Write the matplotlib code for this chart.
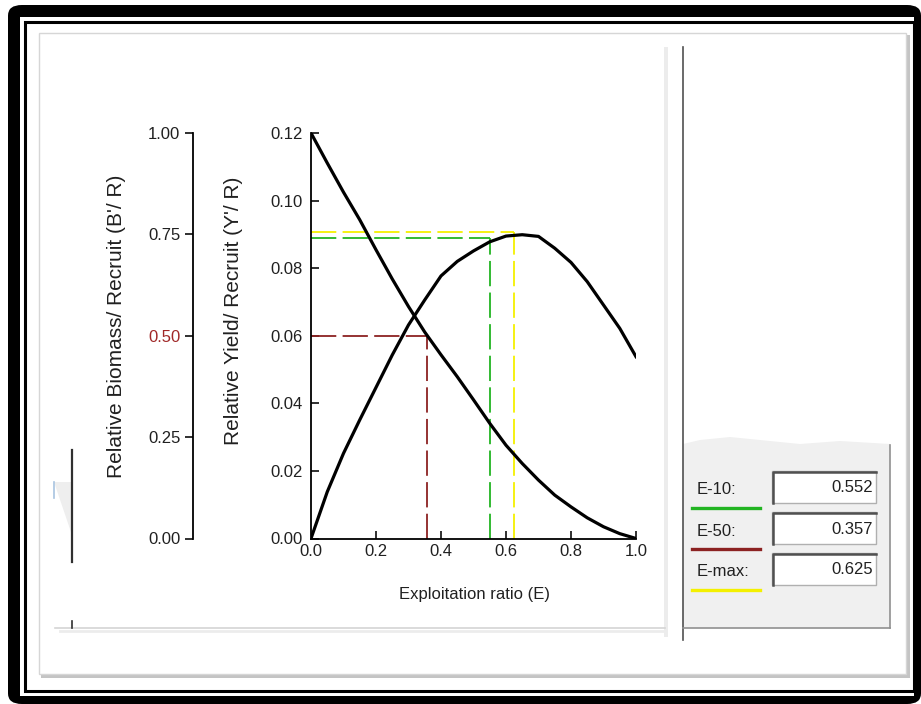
import matplotlib
matplotlib.use("Agg")
import matplotlib.pyplot as plt
from matplotlib.patches import Rectangle, FancyBboxPatch, Polygon
from matplotlib.lines import Line2D

plt.rcParams['font.family'] = ['Liberation Sans', 'DejaVu Sans']

# exploitation ratio and the two curves
e_ratio = [0.0, 0.05, 0.1, 0.15, 0.2, 0.25, 0.3, 0.35, 0.4, 0.45, 0.5,
           0.55, 0.6, 0.65, 0.7, 0.75, 0.8, 0.85, 0.9, 0.95, 1.0]
yield_rel = [0.0, 0.0138, 0.0252, 0.0351, 0.0447, 0.0543, 0.0632, 0.0706, 0.0777, 0.0820, 0.0851,
             0.0878, 0.0895, 0.0899, 0.0894, 0.0859, 0.0817, 0.0760, 0.0691, 0.0622, 0.0538]
biomass_rel = [1.0, 0.926, 0.854, 0.786, 0.712, 0.640, 0.572, 0.509, 0.453, 0.399, 0.342,
               0.284, 0.230, 0.185, 0.144, 0.107, 0.078, 0.051, 0.029, 0.012, 0.0]

# reference points
ref_names = ["E-10:", "E-50:", "E-max:"]
ref_e = [0.552, 0.357, 0.625]
ref_y = [0.0889, 0.060, 0.0908]
ref_colors = ["#22b422", "#8c2222", "#f4f000"]

x_ticks = [0.0, 0.2, 0.4, 0.6, 0.8, 1.0]
y_ticks = [0.0, 0.02, 0.04, 0.06, 0.08, 0.10, 0.12]
b_ticks = [0.0, 0.25, 0.5, 0.75, 1.0]

W, H = 921, 704
fig = plt.figure(figsize=(W / 100, H / 100), dpi=100)


def fx(x):
    return x / W


def fy(y):
    return 1 - y / H


def rect(x0, y0, x1, y1, z=-10, **kw):
    p = Rectangle((fx(x0), fy(y1)), (x1 - x0) / W, (y1 - y0) / H,
                  transform=fig.transFigure, zorder=z, **kw)
    fig.patches.append(p)
    return p


def line(xs, ys, z=-5, **kw):
    fig.lines.append(Line2D([fx(x) for x in xs], [fy(y) for y in ys],
                            transform=fig.transFigure, zorder=z, **kw))


def poly(pts, **kw):
    fig.patches.append(Polygon([(fx(x), fy(y)) for x, y in pts], closed=True,
                               transform=fig.transFigure, zorder=-8, **kw))


# frame around the screenshot
fig.patches.append(FancyBboxPatch((fx(8), fy(704)), (921 - 8) / W, (704 - 5) / H,
                                  boxstyle="round,pad=0,rounding_size=0.015",
                                  transform=fig.transFigure, fc="black", ec="none", zorder=-20))
rect(20, 17, 914, 696, z=-19, fc="white", ec="none")
rect(24.5, 21.5, 914, 691, z=-18, fc="none", ec="black", lw=2.2)

# window panel with shadow
rect(41, 35, 910, 678, z=-17, fc="#c4c4c4", ec="none")
rect(39, 33, 906, 674, z=-16, fc="white", ec="#d6d6d6", lw=1)

# divider between plot and results
rect(664, 47, 668, 637, fc="#ececec", ec="none")
line([682.5, 682.5], [47, 640], color="#505050", lw=1.2)
line([55, 665], [628, 628], color="#d4d4d4", lw=1.2)
line([60, 665], [631, 631], color="#ececec", lw=2)

# left side artefacts
poly([(54, 482), (72, 482), (72, 535)], fc="#eeeeee", ec="none")
line([53.5, 53.5], [482, 498], color="#a8c4e0", lw=1.2)
line([72, 72], [450, 562], color="#303030", lw=1.6)
line([72, 72], [621, 628], color="#303030", lw=1.2)

# results panel
poly([(683, 628), (683, 444), (700, 440), (730, 437), (760, 440), (800, 444),
      (840, 441), (890, 444), (890, 628)], fc="#f0f0f0", ec="none")
line([890, 890], [445, 628], color="#909090", lw=1.2)
line([683, 890], [628, 628], color="#909090", lw=1.2)

box_top = [471, 512, 553]
for name, val, col, top in zip(ref_names, ref_e, ref_colors, box_top):
    fig.text(fx(697), fy(top + 19), name, fontsize=12, color="#202020",
             ha="left", va="center")
    line([692, 760], [top + 37, top + 37], color=col, lw=2.4)
    rect(772, top, 876, top + 32, z=-4, fc="white", ec="#b0b0b0", lw=1)
    line([773, 773, 876], [top + 32, top + 1, top + 1], z=-3, color="#505050", lw=1.8)
    fig.text(fx(873), fy(top + 17), "%.3f" % val, fontsize=12, color="#202020",
             ha="right", va="center")

# main plot
ax = fig.add_axes([fx(311), fy(538.5), (636 - 311) / W, (538.5 - 133) / H])
ax.patch.set_alpha(0)
ax.plot(e_ratio, yield_rel, color="black", lw=2.3, solid_joinstyle="round", zorder=3)
dash = (0, (14, 3.5))
for e, yv, col in zip(ref_e, ref_y, ref_colors):
    ax.plot([0, e], [yv, yv], color=col, lw=1.3, linestyle=dash, zorder=2)
    ax.plot([e, e], [0, yv], color=col, lw=1.3, linestyle=dash, zorder=2)
ax.set_xlim(0, 1.0)
ax.set_ylim(0, 0.12)
ax.set_xticks(x_ticks)
ax.set_xticklabels(["%.1f" % t for t in x_ticks])
ax.set_yticks(y_ticks)
ax.set_yticklabels(["%.2f" % t for t in y_ticks])
for s in ["top", "right"]:
    ax.spines[s].set_visible(False)
for s in ["left", "bottom"]:
    ax.spines[s].set_linewidth(1.3)
ax.tick_params(direction="in", length=6, width=1.3, labelsize=12, colors="#202020")
ax.tick_params(axis="y", pad=6)
ax.tick_params(axis="x", pad=4)
ax.xaxis.get_major_ticks()[0].tick1line.set_visible(False)

# biomass axis, same box, spine pushed out to the left
axb = ax.twinx()
axb.patch.set_alpha(0)
axb.plot(e_ratio, biomass_rel, color="black", lw=2.3, solid_joinstyle="round")
axb.set_ylim(0, 1.0)
axb.yaxis.set_ticks_position("left")
axb.yaxis.set_label_position("left")
axb.spines["left"].set_position(("outward", 85))
for s in ["top", "right", "bottom"]:
    axb.spines[s].set_visible(False)
axb.spines["left"].set_linewidth(1.3)
axb.set_yticks(b_ticks)
axb.set_yticklabels(["%.2f" % t for t in b_ticks])
axb.tick_params(direction="out", length=6, width=1.3, labelsize=12, colors="#202020", pad=3)
axb.get_yticklabels()[2].set_color("#a02828")
axb.yaxis.get_major_ticks()[2].tick1line.set_color("#a02828")

fig.text(fx(474), fy(594), "Exploitation ratio (E)", fontsize=12, color="#202020",
         ha="center", va="center")
fig.text(fx(233), fy(311), "Relative Yield/ Recruit (Y'/ R)", fontsize=15,
         color="#202020", rotation=90, ha="center", va="center")
fig.text(fx(116), fy(326), "Relative Biomass/ Recruit (B'/ R)", fontsize=15,
         color="#202020", rotation=90, ha="center", va="center")

fig.savefig("out.png", dpi=100)
